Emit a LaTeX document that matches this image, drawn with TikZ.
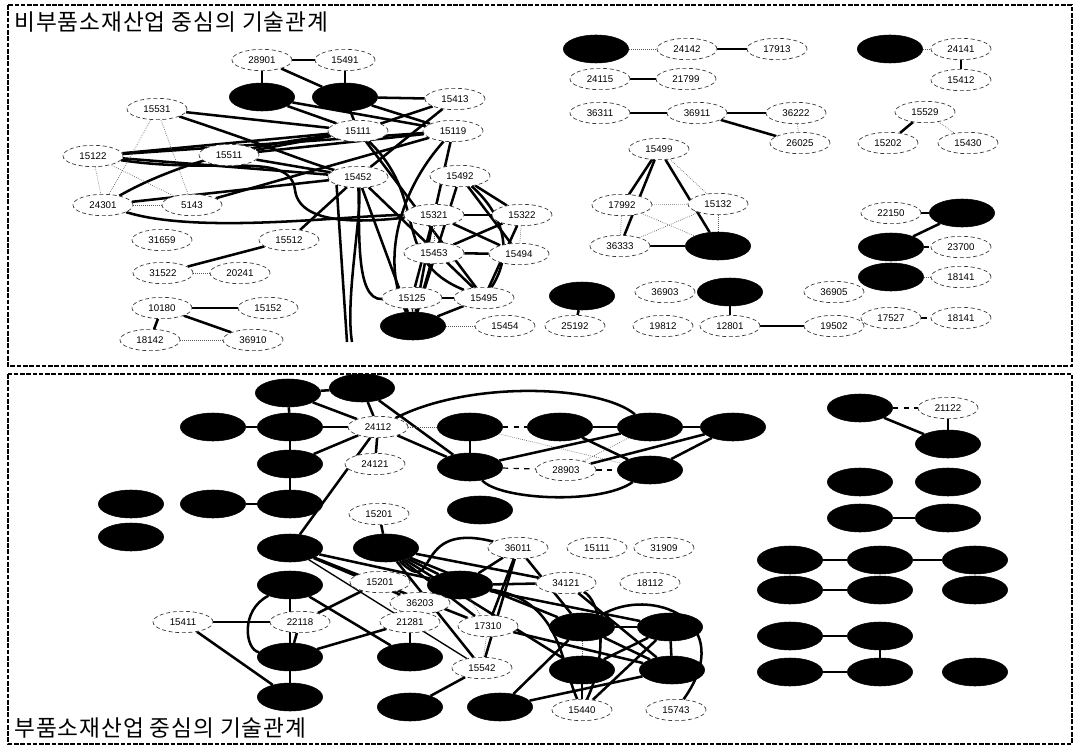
\documentclass[tikz,border=0pt]{standalone}
\usepackage{fontspec}
\setmainfont{Liberation Sans}
\newfontfamily\krfont{Noto Sans CJK KR}[LetterSpace=4]
\usetikzlibrary{shapes.geometric,backgrounds}
\newcommand\numfnt{\fontsize{7.3pt}{8pt}\selectfont}
\newcommand\ttlfnt{\krfont\fontsize{17pt}{20pt}\selectfont}
\tikzset{
  wn/.style={ellipse, draw=black!80, densely dashed, line width=0.5pt, fill=white,
    minimum width=45pt, minimum height=16pt, inner sep=0pt, font=\numfnt},
  bn/.style={ellipse, draw=black, fill=black, minimum width=49pt, minimum height=21pt, inner sep=0pt},
  hv/.style={line width=1.9pt},
  md/.style={line width=1.0pt},
  lt/.style={line width=0.5pt, densely dotted, black!65},
  dsh/.style={line width=0.9pt, dash pattern=on 4pt off 4pt},
  frame/.style={line width=1.8pt, dash pattern=on 3.5pt off 1.2pt},
  ttl/.style={anchor=west, inner sep=0pt, font=\ttlfnt}
}
\begin{document}
\begin{tikzpicture}[x=0.75pt,y=-0.75pt]
\useasboundingbox (0,0) rectangle (1079,749);
\draw[frame] (8,5) rectangle (1072,366);
\draw[frame] (8,374) rectangle (1072,744);
\node[ttl] (t1) at (14,22) {비부품소재산업 중심의 기술관계};
\node[ttl] (t2) at (14,728) {부품소재산업 중심의 기술관계};

% ---------------- top-left cluster
\node[wn] (a28901) at (262,60) {28901};
\node[wn] (a15491) at (345,60) {15491};
\node[bn] (b1) at (262,97) {};
\node[bn] (b2) at (345,97) {};
\node[wn] (a15413) at (455,99) {15413};
\node[wn] (a15531) at (157,109) {15531};
\node[wn] (a15111) at (358,131) {15111};
\node[wn] (a15119) at (453,131) {15119};
\node[wn] (a15122) at (93,156) {15122};
\node[wn] (a15511) at (229,155) {15511};
\node[wn] (a15452) at (358,177) {15452};
\node[wn] (a15492) at (460,176) {15492};
\node[wn] (a24301) at (103,205) {24301};
\node[wn] (a5143) at (192,205) {5143};
\node[wn] (a15321) at (434,215) {15321};
\node[wn] (a15322) at (522,215) {15322};
\node[wn] (a31659) at (162,240) {31659};
\node[wn] (a15512) at (289,240) {15512};
\node[wn] (a15453) at (434,253) {15453};
\node[wn] (a15494) at (519,254) {15494};
\node[wn] (a31522) at (163,273) {31522};
\node[wn] (a20241) at (240,273) {20241};
\node[wn] (a10180) at (162,308) {10180};
\node[wn] (a15152) at (268,308) {15152};
\node[wn] (a15125) at (412,298) {15125};
\node[wn] (a15495) at (484,298) {15495};
\node[bn] (b3) at (413,326) {};
\node[wn] (a15454) at (505,326) {15454};
\node[wn] (a18142) at (150,340) {18142};
\node[wn] (a36910) at (253,340) {36910};
\coordinate (v1) at (347,342);
\coordinate (v2) at (352,342);

% ---------------- top-middle
\node[bn] (b4) at (582,296) {};
\node[wn] (a25192) at (575,326) {25192};
\node[wn] (a36903) at (665,292) {36903};
\node[bn] (b5) at (730,292) {};
\node[wn] (a36905) at (834,292) {36905};
\node[wn] (a19812) at (663,326) {19812};
\node[wn] (a12801) at (730,326) {12801};
\node[wn] (a19502) at (834,326) {19502};
\node[bn] (b6) at (596,49) {};
\node[wn] (a24142) at (687,49) {24142};
\node[wn] (a17913) at (777,49) {17913};
\node[wn] (a24115) at (600,79) {24115};
\node[wn] (a21799) at (686,79) {21799};
\node[wn] (a36311) at (600,113) {36311};
\node[wn] (a36911) at (697,113) {36911};
\node[wn] (a36222) at (796,113) {36222};
\node[wn] (a26025) at (800,143) {26025};
\node[wn] (a15499) at (659,149) {15499};
\node[wn] (a17992) at (622,205) {17992};
\node[wn] (a15132) at (718,204) {15132};
\node[wn] (a36333) at (620,246) {36333};
\node[bn] (b7) at (718,246) {};

% ---------------- top-right
\node[bn] (b8) at (890,49) {};
\node[wn] (a24141) at (961,49) {24141};
\node[wn] (a15412) at (961,80) {15412};
\node[wn] (a15529) at (925,112) {15529};
\node[wn] (a15202) at (888,143) {15202};
\node[wn] (a15430) at (968,143) {15430};
\node[wn] (a22150) at (891,213) {22150};
\node[bn] (b9) at (962,213) {};
\node[bn] (b10) at (891,247) {};
\node[wn] (a23700) at (961,247) {23700};
\node[bn] (b11) at (891,277) {};
\node[wn] (a18141) at (961,277) {18141};
\node[wn] (a17527) at (891,318) {17527};
\node[wn] (a18141b) at (961,318) {18141};

% ---------------- bottom cluster
\node[bn] (k1) at (288,393) {};
\node[bn] (k2) at (362,388) {};
\node[bn] (k3) at (213,427) {};
\node[bn] (k4) at (290,427) {};
\node[wn] (c24112) at (378,427) {24112};
\node[wn] (c24121) at (375,464) {24121};
\node[bn] (k5) at (290,464) {};
\node[bn] (k6) at (470,427) {};
\node[bn] (k7) at (560,427) {};
\node[bn] (k8) at (650,427) {};
\node[bn] (k9) at (733,427) {};
\node[bn] (k10) at (470,467) {};
\node[wn] (c28903) at (566,470) {28903};
\node[bn] (k11) at (650,470) {};
\node[bn] (k12) at (131,504) {};
\node[bn] (k13) at (213,504) {};
\node[bn] (k14) at (290,504) {};
\node[bn] (k15) at (131,537) {};
\node[wn] (c15201) at (379,514) {15201};
\node[bn] (k16) at (480,510) {};
\node[bn] (k17) at (290,548) {};
\node[bn] (k18) at (386,548) {};
\node[wn] (c36011) at (518,548) {36011};
\node[wn] (c15111) at (597,548) {15111};
\node[wn] (c31909) at (664,548) {31909};
\node[bn] (k19) at (290,585) {};
\node[wn] (c15201b) at (380,582) {15201};
\node[bn] (k20) at (460,585) {};
\node[wn] (c36203) at (420,603) {36203};
\node[wn] (c34121) at (566,583) {34121};
\node[wn] (c18112) at (650,583) {18112};
\node[wn] (c15411) at (183,622) {15411};
\node[wn] (c22118) at (300,622) {22118};
\node[wn] (c21281) at (410,622) {21281};
\node[wn] (c17310) at (488,626) {17310};
\node[bn] (k21) at (582,627) {};
\node[bn] (k22) at (670,627) {};
\node[bn] (k23) at (290,657) {};
\node[bn] (k24) at (410,657) {};
\node[wn] (c15542) at (482,668) {15542};
\node[bn] (k25) at (582,670) {};
\node[bn] (k26) at (672,670) {};
\node[bn] (k27) at (290,697) {};
\node[bn] (k28) at (410,707) {};
\node[bn] (k29) at (500,707) {};
\node[wn] (c15440) at (582,710) {15440};
\node[wn] (c15743) at (676,710) {15743};

% ---------------- bottom-right
\node[bn] (k30) at (860,408) {};
\node[wn] (c21122) at (948,408) {21122};
\node[bn] (k31) at (948,444) {};
\node[bn] (k32) at (860,482) {};
\node[bn] (k33) at (948,482) {};
\node[bn] (k34) at (860,518) {};
\node[bn] (k35) at (948,518) {};
\node[bn] (k36) at (790,560) {};
\node[bn] (k37) at (880,560) {};
\node[bn] (k38) at (975,560) {};
\node[bn] (k39) at (790,590) {};
\node[bn] (k40) at (880,590) {};
\node[bn] (k41) at (975,590) {};
\node[bn] (k42) at (790,636) {};
\node[bn] (k43) at (880,636) {};
\node[bn] (k44) at (790,672) {};
\node[bn] (k45) at (880,672) {};
\node[bn] (k46) at (975,672) {};

\begin{scope}[on background layer]
% top-left heavy
\draw[hv] (a28901)--(a15491);
\draw[hv] (a28901)--(b1);
\draw[hv] (a15491)--(b2);
\draw[hv] (a28901)--(b2);
\draw[hv] (b2)--(a15413);
\draw[hv] (b2)--(a15111);
\draw[hv] (b1)--(a15111);
\draw[hv] (b1)--(a15119);
\draw[hv] (b2)--(a15119);
\draw[hv] (a15413)--(a15111);
\draw[hv] (a15531)--(a15111);
\draw[hv] (a15531) .. controls (280,150) and (300,160) .. (a15452);
\draw[hv] (a15122)--(a15111);
\draw[hv] (a15122)--(a15119);
\draw[hv] (a15122)--(a15452);
\draw[hv] (a15511)--(a15111);
\draw[hv] (a15511)--(a15119);
\draw[hv] (a15511)--(a15452);
\draw[hv] (a24301) .. controls (200,150) and (300,140) .. (a15111);
\draw[hv] (a24301)--(a15452);
\draw[hv] (a24301) .. controls (200,235) and (350,215) .. (a15321);
\draw[hv] (a5143)--(a15119);
\draw[hv] (a15122) .. controls (220,175) and (290,150) .. (295,190) .. controls (300,230) and (380,220) .. (a15321);
\draw[hv] (a15452)--(a15512);
\draw[hv] (a15512)--(a31522);
\draw[hv] (a10180)--(a15152);
\draw[hv] (a10180)--(a18142);
\draw[hv] (a10180)--(a36910);
\draw[hv] (a15452.south west)--(v1);
\draw[hv] (a15452) .. controls (362,215) and (345,300) .. (v2);
\draw[hv] (a15452) .. controls (360,230) and (355,300) .. (a15125);
\draw[hv] (a15452)--(a15495);
\draw[hv] (a15452)--(b3);
\draw[hv] (a15111)--(a15495);
\draw[hv] (a15119) .. controls (400,190) and (380,260) .. (b3);
\draw[hv] (a15111) .. controls (430,200) and (390,260) .. (a15495);
\draw[hv] (a15492)--(b3);
\draw[hv] (a15321)--(b3);
\draw[hv] (a15453)--(b3);
\draw[hv] (a15125)--(a15495);
\draw[hv] (b3)--(a15495);
\draw[hv] (a15492)--(a15322);
\draw[hv] (a15492)--(a15494);
\draw[hv] (a15492) .. controls (510,220) and (510,260) .. (a15495);
\draw[hv] (a15321)--(a15322);
\draw[hv] (a15321)--(a15494);
\draw[hv] (a15322)--(a15453);
\draw[hv] (a15453)--(a15494);
\draw[hv] (a15322)--(a15495);
\draw[hv] (a15321)--(a15125);
\draw[hv] (a15119)--(a15321);
\draw[hv] (a15413)--(a15452);
\draw[md] (a15125)--(b3);
% top-left light
\draw[lt] (a15531)--(a24301);
\draw[lt] (a15531)--(a5143);
\draw[lt] (a15122)--(a24301);
\draw[lt] (a15122)--(a5143);
\draw[lt] (a24301)--(a5143);
\draw[lt] (a31522)--(a20241);
\draw[lt] (a18142)--(a36910);
\draw[lt] (a15321)--(a15453);
\draw[lt] (a15322)--(a15494);
\draw[lt] (b3)--(a15454);
% top-middle
\draw[lt] (b6)--(a24142);
\draw[hv] (a24142)--(a17913);
\draw[hv] (a24115)--(a21799);
\draw[hv] (a36311)--(a36911);
\draw[hv] (a36911)--(a36222);
\draw[hv] (a36911)--(a26025);
\draw[lt] (a36222)--(a26025);
\draw[hv] (a15499)--(a17992);
\draw[hv] (a15499)--(a36333);
\draw[hv] (a15499)--(b7);
\draw[lt] (a15499)--(a15132);
\draw[lt] (a17992)--(a36333);
\draw[lt] (a17992)--(a15132);
\draw[lt] (a17992)--(b7);
\draw[lt] (a36333)--(a15132);
\draw[md] (a36333)--(b7);
\draw[lt] (a15132)--(b7);
\draw[hv] (b4)--(a25192);
\draw[hv] (b5)--(a12801);
\draw[hv] (a12801)--(a19502);
% top-right
\draw[lt] (b8)--(a24141);
\draw[hv] (a24141)--(a15412);
\draw[hv] (a15529)--(a15202);
\draw[lt] (a15529)--(a15430);
\draw[hv] (a22150)--(b9);
\draw[hv] (b9)--(b10);
\draw[dsh] (b10)--(a23700);
\draw[lt] (b11)--(a18141);
\draw[dsh] (a17527)--(a18141b);
% bottom cluster
\draw[hv] (k1)--(k2);
\draw[hv] (k1)--(k4);
\draw[hv] (k1)--(c24112);
\draw[hv] (k2)--(c24112);
\draw[hv] (k2)--(k10);
\draw[hv] (k3)--(k4);
\draw[hv] (k4)--(c24112);
\draw[hv] (k4)--(k5);
\draw[hv] (k5)--(c24112);
\draw[hv] (k5)--(k14);
\draw[hv] (k13)--(k14);
\draw[hv] (c24112)--(c24121);
\draw[lt] (c24112)--(k6);
\draw[hv] (c24112)--(k10);
\draw[hv] (c24112)--(k17);
\draw[hv] (c24112) .. controls (470,380) and (600,385) .. (k8);
\draw[dsh] (k6)--(k7);
\draw[hv] (k6)--(k10);
\draw[lt] (k6)--(k11);
\draw[hv] (k7)--(k8);
\draw[hv] (k7)--(k11);
\draw[hv] (k10)--(k8);
\draw[hv] (k8)--(k9);
\draw[hv] (k9)--(k11);
\draw[hv] (k9)--(c28903);
\draw[dsh] (k10)--(c28903);
\draw[dsh] (c28903)--(k11);
\draw[hv] (k10) .. controls (500,500) and (600,505) .. (k11);
\draw[lt] (c28903)--(k8);
\draw[hv] (c15201)--(k18);
\draw[hv] (k17)--(c36203);
\draw[hv] (k17)--(k20);
\draw[hv] (k17)--(c17310);
\draw[md] (k17)--(c15542);
\draw[hv] (k18) .. controls (440,600) and (410,520) .. (c36011);
\draw[hv] (k18)--(k20);
\draw[hv] (k18)--(c34121);
\draw[hv] (k18)--(c17310);
\draw[hv] (k18)--(k21);
\draw[hv] (k18)--(c15542);
\draw[hv] (k18)--(k25);
\draw[hv] (c36011)--(k20);
\draw[hv] (c36011)--(k21);
\draw[hv] (c36011)--(c15542);
\draw[hv] (c36011)--(c17310);
\draw[hv] (k20)--(c34121);
\draw[hv] (k20)--(k22);
\draw[lt] (k20)--(c17310);
\draw[hv] (c34121)--(k26);
\draw[hv] (k21)--(k22);
\draw[hv] (k21)--(k26);
\draw[hv] (k22)--(k26);
\draw[lt] (k21)--(k25);
\draw[hv] (k22)--(c15440);
\draw[hv] (k22)--(k25);
\draw[hv] (k25)--(c15440);
\draw[hv] (k21) .. controls (650,585) and (740,620) .. (c15743);
\draw[hv] (k29)--(k26);
\draw[hv] (k29)--(k21);
\draw[lt] (c17310)--(c15542);
\draw[hv] (c17310)--(k26);
\draw[hv] (c15542)--(k28);
\draw[hv] (c15440) .. controls (560,660) and (560,600) .. (k20);
\draw[hv] (c15440) .. controls (610,650) and (600,600) .. (c34121);
\draw[hv] (k19)--(k23);
\draw[hv] (k19) .. controls (240,610) and (245,650) .. (k23);
\draw[hv] (c15411)--(c22118);
\draw[hv] (c15411)--(k27);
\draw[hv] (c22118)--(k23);
\draw[hv] (c22118)--(c15201b);
\draw[hv] (c21281)--(k23);
\draw[hv] (c21281)--(k24);
\draw[hv] (k23)--(k27);
\draw[hv] (k19)--(k24);
% bottom-right
\draw[dsh] (k30)--(c21122);
\draw[hv] (k30)--(k31);
\draw[hv] (c21122)--(k31);
\draw[md] (k34)--(k35);
\draw[md] (k36)--(k37);
\draw[md] (k37)--(k38);
\draw[md] (k39)--(k40);
\draw[md] (k42)--(k43);
\draw[md] (k43)--(k45);
\draw[md] (k44)--(k45);
\end{scope}
\end{tikzpicture}
\end{document}
